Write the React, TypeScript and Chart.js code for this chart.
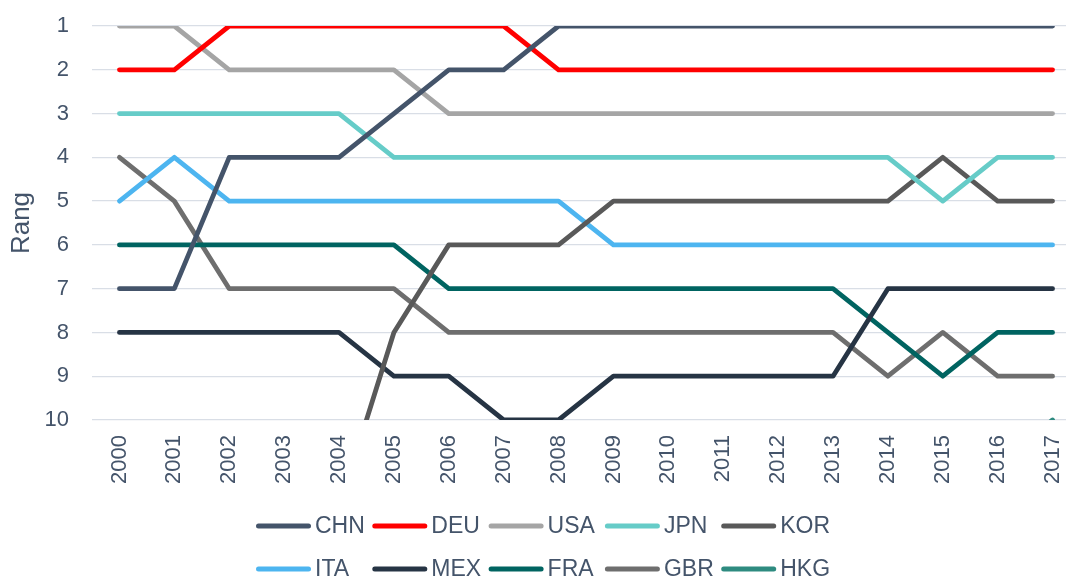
import React, { useEffect, useRef } from "react";
import { Chart, registerables } from "chart.js";

Chart.register(...registerables);

const years = [
  "2000", "2001", "2002", "2003", "2004", "2005", "2006", "2007", "2008",
  "2009", "2010", "2011", "2012", "2013", "2014", "2015", "2016", "2017",
];

const rankTicks = [1, 2, 3, 4, 5, 6, 7, 8, 9, 10];

const chn = [7, 7, 4, 4, 4, 3, 2, 2, 1, 1, 1, 1, 1, 1, 1, 1, 1, 1];
const deu = [2, 2, 1, 1, 1, 1, 1, 1, 2, 2, 2, 2, 2, 2, 2, 2, 2, 2];
const usa = [1, 1, 2, 2, 2, 2, 3, 3, 3, 3, 3, 3, 3, 3, 3, 3, 3, 3];
const jpn = [3, 3, 3, 3, 3, 4, 4, 4, 4, 4, 4, 4, 4, 4, 4, 5, 4, 4];
const kor = [null, null, null, null, 12, 8, 6, 6, 6, 5, 5, 5, 5, 5, 5, 4, 5, 5];
const ita = [5, 4, 5, 5, 5, 5, 5, 5, 5, 6, 6, 6, 6, 6, 6, 6, 6, 6];
const mex = [8, 8, 8, 8, 8, 9, 9, 10, 10, 9, 9, 9, 9, 9, 7, 7, 7, 7];
const fra = [6, 6, 6, 6, 6, 6, 7, 7, 7, 7, 7, 7, 7, 7, 8, 9, 8, 8];
const gbr = [4, 5, 7, 7, 7, 7, 8, 8, 8, 8, 8, 8, 8, 8, 9, 8, 9, 9];
const hkg = [null, null, null, null, null, null, null, null, null, null, null, null, null, null, null, null, 11, 10];

const seriesNames = ["CHN", "DEU", "USA", "JPN", "KOR", "ITA", "MEX", "FRA", "GBR", "HKG"];
const seriesValues = [chn, deu, usa, jpn, kor, ita, mex, fra, gbr, hkg];
const seriesColors = [
  "#44546A", "#FF0000", "#A5A5A5", "#66CCC8", "#595959",
  "#4DB5F0", "#263444", "#006461", "#6E6E6E", "#2E8B80",
];

const TEXT_COLOR = "#44546A";
const FONT_FAMILY = '"Liberation Sans", Arial, Helvetica, sans-serif';

const gridLegend = {
  id: "gridLegend",
  afterDraw(chart: any) {
    const ctx = chart.ctx as CanvasRenderingContext2D;
    const ds = chart.data.datasets;
    ctx.save();
    ctx.font = `23px ${FONT_FAMILY}`;
    ctx.textBaseline = "middle";
    ctx.textAlign = "left";
    ds.forEach((d: any, i: number) => {
      const col = i % 5;
      const row = Math.floor(i / 5);
      const x = 256 + col * 116.3;
      const y = 526 + row * 43;
      ctx.strokeStyle = d.borderColor;
      ctx.lineWidth = 5;
      ctx.lineCap = "round";
      ctx.beginPath();
      ctx.moveTo(x + 2.5, y);
      ctx.lineTo(x + 52.5, y);
      ctx.stroke();
      ctx.fillStyle = TEXT_COLOR;
      ctx.fillText(d.label, x + 59, y + 1);
    });
    ctx.restore();
  },
};

export default function App() {
  const canvasRef = useRef<HTMLCanvasElement | null>(null);

  useEffect(() => {
    const canvas = canvasRef.current;
    if (!canvas) return;
    const chart = new Chart(canvas, {
      type: "line",
      data: {
        labels: years,
        datasets: seriesNames.map((name, i) => ({
          label: name,
          data: seriesValues[i],
          borderColor: seriesColors[i],
          backgroundColor: seriesColors[i],
          borderWidth: 4.8,
          borderCapStyle: "round",
          borderJoinStyle: "round",
          pointRadius: 0,
          pointHoverRadius: 0,
          tension: 0,
          fill: false,
          spanGaps: false,
          clip: { left: 10, right: 10, top: 0, bottom: 0 },
        })) as any,
      },
      options: {
        responsive: false,
        animation: false,
        devicePixelRatio: 1,
        layout: { padding: { left: 2, top: 26, right: 0, bottom: 89 } },
        plugins: {
          legend: { display: false },
          tooltip: { enabled: false },
        },
        scales: {
          x: {
            type: "category",
            offset: true,
            grid: { display: false, drawTicks: false },
            border: { display: false },
            ticks: {
              autoSkip: false,
              maxRotation: 90,
              minRotation: 90,
              padding: 15,
              color: TEXT_COLOR,
              font: { size: 22, family: FONT_FAMILY },
            },
            afterFit: (scale: any) => {
              scale.height = 70;
              scale.paddingLeft = 0;
              scale.paddingRight = 0;
            },
          },
          y: {
            type: "linear",
            min: 1,
            max: 10,
            reverse: true,
            afterBuildTicks: (scale: any) => {
              scale.ticks = rankTicks.map((v) => ({ value: v }));
            },
            grid: { color: "#D9DEE6", lineWidth: 1.3, drawTicks: false },
            border: { display: false },
            ticks: {
              stepSize: 1,
              padding: 23,
              color: TEXT_COLOR,
              font: { size: 22, family: FONT_FAMILY },
            },
            title: {
              display: true,
              text: "Rang",
              color: TEXT_COLOR,
              font: { size: 26, family: FONT_FAMILY },
              padding: { top: 4, bottom: 0 },
            },
            afterFit: (scale: any) => {
              scale.width = 90;
              scale.paddingTop = 0;
              scale.paddingBottom = 0;
            },
          },
        },
      },
      plugins: [gridLegend],
    });
    return () => chart.destroy();
  }, []);

  return (
    <div
      style={{
        position: "fixed",
        left: 0,
        top: 0,
        width: 1066,
        height: 579,
        overflow: "hidden",
        background: "#FFFFFF",
      }}
    >
      <canvas ref={canvasRef} width={1080} height={579} style={{ display: "block" }} />
    </div>
  );
}
